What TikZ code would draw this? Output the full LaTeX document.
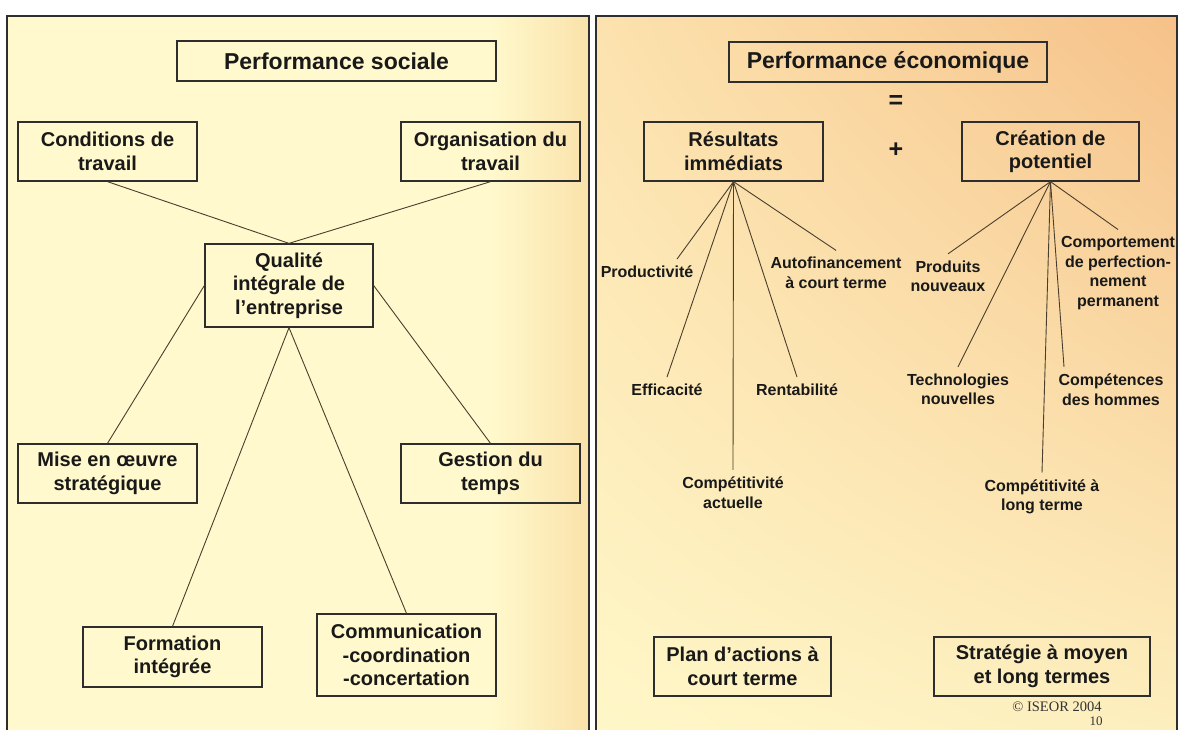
\documentclass[tikz,border=0pt]{standalone}
\usepackage{fontspec}
\usetikzlibrary{shadings}
\setmainfont{Liberation Sans}
\newfontfamily\timesfont{Liberation Serif}
\definecolor{trait}{HTML}{4A3E2C}
\definecolor{cadre}{HTML}{2E2E2E}
\definecolor{jaunepale}{HTML}{FFF9CD}
\definecolor{jauneorange}{HTML}{FAE2AA}
\definecolor{orangehaut}{HTML}{F6C189}
\definecolor{orangegauche}{HTML}{FCE2AE}
\definecolor{jaunebas}{HTML}{FFF7C8}
\definecolor{jaunebasdroite}{HTML}{FDEFBE}
\tikzset{
  boite/.style={shape=rectangle, draw=cadre, line width=1.3pt, align=center, inner sep=0pt,
    minimum width=179pt, minimum height=59pt, text=black!90,
    font=\fontsize{20}{23.5}\selectfont\bfseries},
  titre/.style={boite, minimum height=40pt, font=\fontsize{23}{27}\selectfont\bfseries},
  etiq/.style={align=center, inner sep=1pt, outer sep=6pt, text=black!90,
    font=\fontsize{16}{19.5}\selectfont\bfseries},
  signe/.style={text=black!90, font=\fontsize{25}{25}\selectfont\bfseries},
  lien/.style={draw=trait, line width=0.9pt}
}
\begin{document}
\begin{tikzpicture}[x=1pt, y=-1pt, node distance=60pt]
\useasboundingbox (0,0) rectangle (1179,729);
\clip (0,0) rectangle (1179,729);
\fill [white] (0,0) rectangle (1179,729);
\fill [jaunepale] (7,16) rectangle (589,740);
\shade [left color=jaunepale, right color=jauneorange] (490,16) rectangle (589,740);
\shade [upper left=orangegauche, upper right=orangehaut, lower left=jaunebas, lower right=jaunebasdroite] (596,16) rectangle (1177,740);
\draw [cadre, line width=1.2pt] (7,16) rectangle (589,740);
\draw [cadre, line width=1.2pt] (596,16) rectangle (1177,740);

\node [titre, minimum width=319pt] (PS) at (336.5,61) {Performance sociale};
\node [boite] (CT) at (107.5,151.5) {Conditions de\\travail};
\node [boite, right of=CT, node distance=383pt] (OT) {Organisation du\\travail};
\node [boite, minimum width=168pt, minimum height=83pt] (QI) at (289,285.5) {Qualité\\intégrale de\\l’entreprise};
\node [boite, below of=CT, node distance=322pt] (MO) {Mise en œuvre\\stratégique};
\node [boite, below of=OT, node distance=322pt] (GT) {Gestion du\\temps};
\node [boite, minimum height=60pt] (FI) at (172.5,657) {Formation\\intégrée};
\node [boite, minimum height=82pt] (CC) at (406.5,655) {Communication\\-coordination\\-concertation};

\draw [lien] (CT.south) -- (QI.north);
\draw [lien] (OT.south) -- (QI.north);
\draw [lien] (QI.west) -- (MO.north);
\draw [lien] (QI.east) -- (GT.north);
\draw [lien] (QI.south) -- (FI.north);
\draw [lien] (QI.south) -- (CC.north);

\node [titre, minimum width=318pt] (PE) at (888,62) {Performance économique};
\node [signe] (EG) at (896,102) {=};
\node [signe] (PL) at (896,150) {+};
\node [boite] (RI) at (733.5,151.5) {Résultats\\immédiats};
\node [boite, minimum width=177pt] (CP) at (1050.5,151.5) {Création de\\potentiel};

\node [etiq] (PR) at (647,272) {Productivité};
\node [etiq] (EF) at (667,390) {Efficacité};
\node [etiq] (RE) at (797,390) {Rentabilité};
\node [etiq] (AF) at (836,273) {Autofinancement\\à court terme};
\node [etiq] (CA) at (733,492.5) {Compétitivité\\actuelle};
\node [etiq] (PN) at (948,276.5) {Produits\\nouveaux};
\node [etiq] (TN) at (958,389.5) {Technologies\\nouvelles};
\node [etiq] (CH) at (1111,389.5) {Compétences\\des hommes};
\node [etiq] (CL) at (1042,497) {Compétitivité à\\long terme};
\node [etiq] (CO) at (1118,273) {Comportement\\de perfection-\\nement\\permanent};

\draw [lien] (RI.south) -- ([xshift=30pt]PR.north);
\draw [lien] (RI.south) -- (EF.north);
\draw [lien] (RI.south) -- (CA.north);
\draw [lien] (RI.south) -- (RE.north);
\draw [lien] (RI.south) -- (AF.north);
\draw [lien] (CP.south) -- (PN.north);
\draw [lien] (CP.south) -- (TN.north);
\draw [lien] (CP.south) -- (CL.north);
\draw [lien] (CP.south) -- ([xshift=-47pt]CH.north);
\draw [lien] (CP.south) -- (CO.north);

\node [boite, minimum width=177pt] (PA) at (742.5,666.5) {Plan d’actions à\\court terme};
\node [boite, minimum width=216pt] (SM) at (1042,666.5) {Stratégie à moyen\\et long termes};
\node [font=\timesfont\fontsize{14.5}{17}\selectfont, text=black!80] (CR) at (1057,707) {© ISEOR 2004};
\node [font=\timesfont\fontsize{13}{15}\selectfont, text=black!80] (NP) at (1096,721) {10};
\end{tikzpicture}
\end{document}
